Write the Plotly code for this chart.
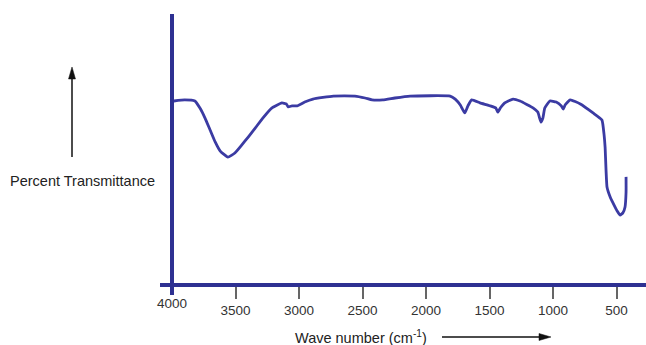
import plotly.graph_objects as go

# Wavenumber (cm^-1) and percent transmittance
wavenumber = [3985, 3900, 3820, 3780, 3740, 3700, 3660, 3620, 3560, 3505,
              3450, 3400, 3345, 3285, 3215, 3135, 3100, 3085, 3055, 3015,
              2955, 2890, 2730, 2560, 2480, 2425, 2340, 2245, 2125, 1810,
              1770, 1730, 1695, 1670, 1640, 1575, 1495, 1450, 1435, 1415,
              1380, 1315, 1260, 1155, 1120, 1095, 1080, 1065, 1025, 975,
              935, 920, 905, 865, 785, 685, 615, 598, 590, 575,
              550, 528, 495, 472, 450, 433, 425, 425]
transmittance = [67.9, 68.3, 67.9, 65.3, 61.6, 57.2, 52.8, 49.4, 47.2, 48.7,
                 51.7, 54.6, 57.9, 61.6, 65.3, 67.2, 66.8, 65.7, 66.1, 66.1,
                 67.5, 68.6, 69.7, 69.7, 69.0, 68.3, 68.3, 69.0, 69.7, 69.7,
                 68.6, 66.4, 63.5, 66.1, 68.3, 67.2, 66.1, 65.3, 63.8, 65.3,
                 67.2, 68.6, 67.9, 65.3, 63.8, 60.1, 61.6, 65.3, 67.9, 67.5,
                 66.1, 64.9, 66.4, 68.3, 66.8, 63.5, 60.9, 55.4, 50.9, 36.2,
                 32.5, 30.3, 27.3, 25.8, 26.6, 28.8, 34.3, 39.9]

tick_values = [3500, 3000, 2500, 2000, 1500, 1000, 500]
tick_labels = ["3500", "3000", "2500", "2000", "1500", "1000", "500"]
first_tick_label = "4000"

AXIS_COLOR = "#2e3192"
LINE_COLOR = "#3b3ba3"
FONT = "Liberation Sans, Arial, sans-serif"

# plot area in pixels (for placing decorations in paper units)
L, R, T, B = 172, 646, 14, 285
W, H = R - L, B - T


def px(x):
    return (x - L) / W


def py(y):
    return (B - y) / H


def tri(points):
    return "M " + " L ".join(f"{px(a):.5f},{py(b):.5f}" for a, b in points) + " Z"


fig = go.Figure()
fig.add_trace(go.Scatter(
    x=wavenumber, y=transmittance, mode="lines",
    line=dict(color=LINE_COLOR, width=2.8, shape="spline", smoothing=0.4),
    hoverinfo="skip", showlegend=False,
))

fig.update_layout(
    width=646, height=345,
    margin=dict(l=L, r=646 - R, t=T, b=345 - B, pad=0),
    paper_bgcolor="white", plot_bgcolor="white",
    font=dict(family=FONT, size=13, color="#333333"),
    xaxis=dict(
        range=[4000, 268], showgrid=False, zeroline=False, showline=False,
        tickmode="array", tickvals=tick_values, ticktext=tick_labels,
        ticks="outside", ticklen=13, tickwidth=1.5, tickcolor="#666666",
        tickfont=dict(family=FONT, size=13.5, color="#333333"),
    ),
    yaxis=dict(range=[0, 100], visible=False),
    shapes=[
        # horizontal axis line
        dict(type="line", xref="paper", yref="paper",
             x0=px(160), x1=1.0, y0=0, y1=0,
             line=dict(color=AXIS_COLOR, width=4)),
        # vertical axis line
        dict(type="line", xref="paper", yref="paper",
             x0=0, x1=0, y0=py(295), y1=1.0,
             line=dict(color=AXIS_COLOR, width=4)),
        # vertical arrow shaft
        dict(type="line", xref="paper", yref="paper",
             x0=px(72), x1=px(72), y0=py(157), y1=py(76),
             line=dict(color="#111111", width=1.5)),
        # vertical arrow head
        dict(type="path", xref="paper", yref="paper",
             path=tri([(72, 67), (68.5, 79), (75.5, 79)]),
             fillcolor="#111111", line=dict(color="#111111", width=0.5)),
        # horizontal arrow shaft
        dict(type="line", xref="paper", yref="paper",
             x0=px(442), x1=px(541), y0=py(337), y1=py(337),
             line=dict(color="#111111", width=1.5)),
        # horizontal arrow head
        dict(type="path", xref="paper", yref="paper",
             path=tri([(551, 337), (539, 333.5), (539, 340.5)]),
             fillcolor="#111111", line=dict(color="#111111", width=0.5)),
    ],
    annotations=[
        dict(text=first_tick_label, xref="paper", yref="paper",
             x=px(171.5), y=py(303.5), showarrow=False,
             xanchor="center", yanchor="middle",
             font=dict(family=FONT, size=13.5, color="#333333")),
        dict(text="Wave number (cm<sup>-1</sup>)", xref="paper", yref="paper",
             x=px(361), y=py(337), showarrow=False,
             xanchor="center", yanchor="middle",
             font=dict(family=FONT, size=14.5, color="#222222")),
        dict(text="Percent Transmittance", xref="paper", yref="paper",
             x=px(82), y=py(181), showarrow=False,
             xanchor="center", yanchor="middle",
             font=dict(family=FONT, size=14.5, color="#222222")),
    ],
)

fig.write_html("out.html")
